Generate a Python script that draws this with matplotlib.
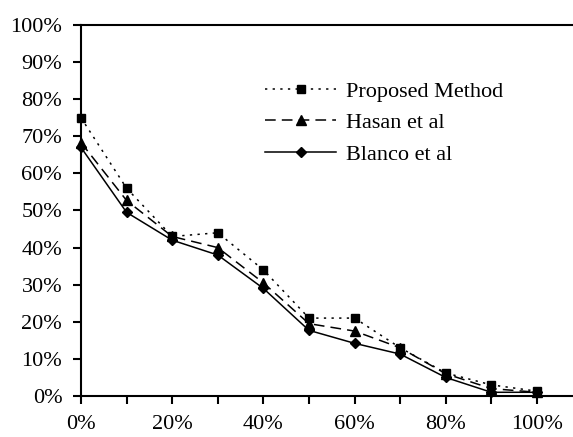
import matplotlib
matplotlib.use("Agg")
import matplotlib.pyplot as plt
from matplotlib.ticker import FixedLocator, FuncFormatter

# share of items (%) vs threshold (%)
x_vals = [0, 10, 20, 30, 40, 50, 60, 70, 80, 90, 100]
proposed = [75, 56, 43, 44, 34, 21, 21, 13, 6.2, 3, 1.3]
hasan = [68.3, 52.7, 43, 40, 30.5, 19.5, 17.5, 13, 6, 2, 1]
blanco = [67, 49.5, 42, 38, 29, 17.7, 14.2, 11.3, 5, 1, 1]

plt.rcParams['font.family'] = ['Liberation Serif', 'DejaVu Serif']

def main():
    fig = plt.figure(figsize=(5.73, 4.37), dpi=100)
    ax = fig.add_axes([81 / 573, 1 - 396 / 437, 1 - 81 / 573, (396 - 25) / 437])

    ax.plot(x_vals, proposed, color="black", lw=1.1, dashes=(1.5, 3.5),
            marker="s", ms=6, label="Proposed Method", clip_on=False)
    ax.plot(x_vals, hasan, color="black", lw=1.1, dashes=(7, 4),
            marker="^", ms=7, label="Hasan et al", clip_on=False)
    ax.plot(x_vals, blanco, color="black", lw=1.1, linestyle="-",
            marker="D", ms=5.5, label="Blanco et al", clip_on=False)

    ax.set_xlim(0, (573 - 82) / 4.55)
    ax.set_ylim(0, 100)

    ax.spines['right'].set_visible(False)
    for s in ['left', 'bottom', 'top']:
        ax.spines[s].set_linewidth(1.5)

    ax.xaxis.set_major_locator(FixedLocator(x_vals))
    ax.xaxis.set_major_formatter(FuncFormatter(
        lambda v, p: "{:d}%".format(int(round(v))) if int(round(v)) % 20 == 0 else ""))
    ax.yaxis.set_major_locator(FixedLocator(range(0, 101, 10)))
    ax.yaxis.set_major_formatter(FuncFormatter(lambda v, p: "{:d}%".format(int(round(v)))))
    ax.tick_params(axis='both', direction='out', length=6, width=1.5, labelsize=16)
    ax.tick_params(axis='x', pad=7.5)
    ax.tick_params(axis='y', pad=7.5)

    ax.legend(loc="upper left", bbox_to_anchor=(265 / 573, 1 - 81 / 437),
              bbox_transform=fig.transFigure, frameon=False, fontsize=16,
              handlelength=3.2, handletextpad=0.45, labelspacing=0.5,
              borderpad=0, borderaxespad=0)

    fig.savefig("out.png", dpi=100)


if __name__ == '__main__':
    main()
